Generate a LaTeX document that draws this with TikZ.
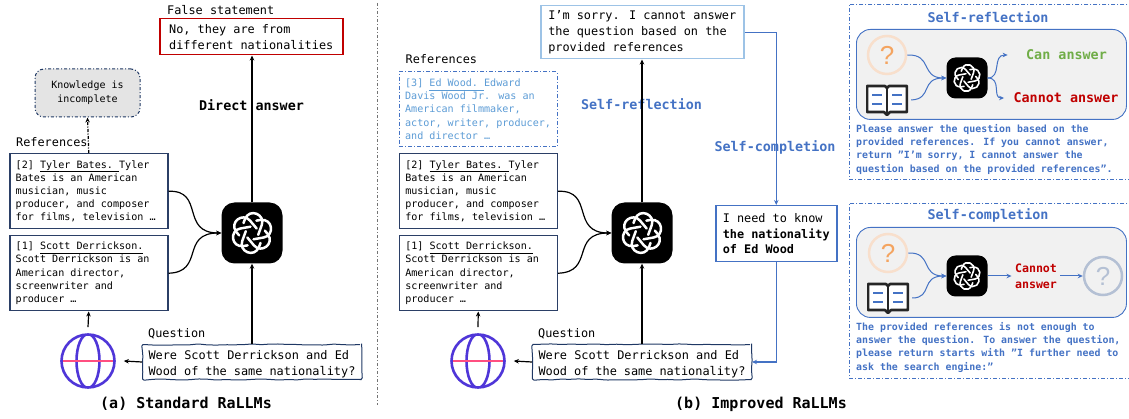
\documentclass[tikz,border=0pt]{standalone}
\usepackage{fontspec}
\setmainfont{DejaVu Sans Mono}
\newfontfamily\qmarkfont{Liberation Sans}
\usepackage{xcolor}
\definecolor{boxslate}{HTML}{2B3F66}
\definecolor{wavenavy}{HTML}{1F3864}
\definecolor{selfblue}{HTML}{4472C4}
\definecolor{refblue}{HTML}{5B9BD5}
\definecolor{skyline}{HTML}{9DC3E6}
\definecolor{falsered}{HTML}{C00000}
\definecolor{cangreen}{HTML}{70AD47}
\definecolor{panelgray}{HTML}{F1F1F1}
\definecolor{cloudgray}{HTML}{E4E4E4}
\definecolor{globepurple}{HTML}{4F36D8}
\definecolor{globepink}{HTML}{FF4F81}
\definecolor{peach}{HTML}{F8DFCC}
\definecolor{qorange}{HTML}{F4A460}
\definecolor{fadeblue}{HTML}{B4C0D4}
\usetikzlibrary{arrows.meta, positioning, decorations.pathmorphing}

\newcommand{\reffont}{\fontsize{10.1}{13.2}\selectfont}
\newcommand{\ansfont}{\fontsize{11.85}{15.8}\selectfont}
\newcommand{\notefont}{\fontsize{9.9}{13.3}\selectfont}
\newcommand{\headfont}{\fontsize{13.4}{16}\selectfont\bfseries}
\newcommand{\refhead}[1]{\underline{\smash{#1}\vphantom{y}}}
\newcommand{\dq}{\symbol{34}}
\newcommand{\gptknot}[3]{\begin{scope}[shift={(#1.center)}]
    \foreach \ang in {10,70,...,310} {
    \draw[white, line width=#3pt, line cap=round, rotate=\ang, x=#2pt, y=#2pt]
      (0.02,-0.30) -- (0.5,-0.30) .. controls (1.02,-0.30) and (1.08,0.5) .. (0.5,0.53) -- (0.30,0.53);}
    \end{scope}}

\begin{document}
\begin{tikzpicture}[
    x=1pt, y=-1pt,
    refbox/.style={rectangle, draw=boxslate, line width=1.5pt, anchor=north west, minimum width=158pt, minimum height=75pt, text width=146pt, inner xsep=6pt, inner ysep=2pt, align=flush left, font=\reffont},
    quesbox/.style={rectangle, draw=wavenavy, line width=1pt, rounded corners=1.5pt, decorate, decoration={random steps, segment length=9pt, amplitude=0.6pt}, anchor=north west, minimum width=219pt, minimum height=35pt, text width=207pt, inner xsep=6pt, inner ysep=1pt, align=flush left, font=\fontsize{11.9}{15.8}\selectfont},
    ansbox/.style={rectangle, line width=1.5pt, anchor=north west, inner xsep=7pt, inner ysep=2pt, align=left, font=\ansfont},
    gptbig/.style={rectangle, fill=black, rounded corners=13pt, minimum size=61pt, inner sep=0pt},
    gptsmall/.style={rectangle, fill=black, rounded corners=9pt, minimum size=41pt, inner sep=0pt},
    globe/.style={circle, draw=globepurple, line width=2.6pt, minimum size=53pt, inner sep=0pt, path picture={
        \draw[globepurple, line width=2.6pt] (path picture bounding box.center) ellipse [x radius=11.5, y radius=27];
        \draw[globepink, line width=2.8pt] (path picture bounding box.west) -- (path picture bounding box.east);}},
    book/.style={rectangle, minimum width=42pt, minimum height=34pt, inner sep=0pt, path picture={
        \coordinate (bc) at (path picture bounding box.center);
        \draw[black!85, line width=2.6pt, fill=white, line join=round] ([shift={(-20,-14)}]bc) -- ([shift={(-2,-14)}]bc) -- ([shift={(0,-12)}]bc) -- ([shift={(2,-14)}]bc) -- ([shift={(20,-14)}]bc) -- ([shift={(20,12)}]bc) -- ([shift={(3,12)}]bc) -- ([shift={(0,15)}]bc) -- ([shift={(-3,12)}]bc) -- ([shift={(-20,12)}]bc) -- cycle;
        \draw[black!85, line width=2.6pt] ([shift={(0,-12)}]bc) -- ([shift={(0,14)}]bc);
        \draw[selfblue, line width=2.4pt] ([shift={(-15,-5)}]bc) -- ([shift={(-5,-5)}]bc) ([shift={(-15,4)}]bc) -- ([shift={(-5,4)}]bc) ([shift={(5,-5)}]bc) -- ([shift={(15,-5)}]bc) ([shift={(5,4)}]bc) -- ([shift={(15,4)}]bc);}},
    qring/.style={circle, draw=#1, line width=2.5pt, minimum size=38pt, inner sep=0pt, font=\fontsize{26}{26}\selectfont\qmarkfont},
    panel/.style={rectangle, draw=selfblue, line width=0.8pt, dash pattern=on 4pt off 2pt on 1pt off 2pt, anchor=north west, minimum width=284pt, minimum height=175pt},
    graypanel/.style={rectangle, draw=selfblue, line width=0.9pt, fill=panelgray, rounded corners=14pt, anchor=north west, minimum width=270pt, minimum height=90pt},
    prompt/.style={anchor=north west, inner sep=0pt, align=left, text=selfblue, font=\notefont\bfseries},
    arrow/.style={-{Stealth[length=5pt, width=4.5pt]}, line width=1.2pt, draw=black},
    bluearrow/.style={-{Stealth[length=5pt, width=4.5pt]}, line width=1pt, draw=selfblue}
]
\useasboundingbox (0,0) rectangle (1129,419);

% Divider
\coordinate (divtop) at (377,3);
\coordinate (divbot) at (377,405);
\draw[black!55, line width=0.8pt, dash pattern=on 3pt off 2pt on 1pt off 2pt] (divtop) -- (divbot);

% Panel (a): Standard
\node[ansbox, draw=falsered, minimum width=183pt, minimum height=36pt] (falsea) at (159,18) {No, they are from\\different nationalities};
\node[above=0pt of falsea.north west, anchor=south west, xshift=7pt, inner sep=1pt, font=\ansfont, yshift=2pt] (falselabel) {False statement};
\node[rectangle, draw=wavenavy, fill=cloudgray, line width=1pt, dash pattern=on 3pt off 2pt on 1pt off 2pt, rounded corners=9pt, minimum width=105pt, minimum height=48pt, align=center, font=\fontsize{10}{14}\selectfont] (gapa) at (87.5,93) {Knowledge is\\incomplete};
\node[refbox] (reftwoa) at (9,153) {[2] \refhead{Tyler Bates.~}Tyler\\Bates is an American\\musician, music\\producer, and composer\\for films, television …};
\node[refbox] (refonea) at (9,235) {[1] \refhead{Scott Derrickson.}\\Scott Derrickson is an\\American director,\\screenwriter and\\producer …};
\node[above=5pt of reftwoa.north west, anchor=south west, xshift=6pt, inner sep=1pt, font=\ansfont] (refsa) {References};
\node[gptbig] (gpta) at (252,233) {};
\gptknot{gpta}{21.5}{2.5}
\node[globe] (globea) at (88,361) {};
\node[quesbox] (quesa) at (142,344) {\rule{0pt}{14pt}Were Scott Derrickson and Ed\\Wood of the same nationality?};
\node[above=3pt of quesa.north west, anchor=south west, xshift=5pt, inner sep=1pt, font=\ansfont, yshift=1pt] (quesla) {Question};
\node[font=\headfont] (directa) at (251.5,105) {Direct answer};
\node[font=\fontsize{15}{18}\selectfont\bfseries] (capa) at (186,404) {(a) Standard RaLLMs};

% Arrows (a)
\draw[arrow, dash pattern=on 3pt off 1.5pt on 1pt off 1.5pt] (reftwoa.north) -- (gapa.south);
\draw[arrow] (gpta.north) -- (gpta.north |- falsea.south);
\draw[arrow] (quesa.north -| gpta.south) -- (gpta.south);
\draw[arrow] (reftwoa.east) .. controls (205,190) and (180,233) .. (gpta.west);
\draw[arrow] (refonea.east) .. controls (205,272) and (180,233) .. (gpta.west);
\draw[arrow] (quesa.west) -- ([xshift=8pt]globea.east);
\draw[arrow] ([yshift=6pt]globea.north) -- (refonea.south);

% Panel (b): Improved
\node[ansbox, draw=skyline, minimum width=203pt, minimum height=53pt] (answerb) at (540,5) {I’m sorry. I cannot answer\\the question based on the\\provided references};
\node[refbox, draw=selfblue, line width=1.2pt, dash pattern=on 4pt off 2pt on 1pt off 2pt, text=refblue] (refthreeb) at (398.5,71) {[3] \refhead{Ed Wood.~}Edward\\Davis Wood Jr. was an\\American filmmaker,\\actor, writer, producer,\\and director …};
\node[refbox] (reftwob) at (398.5,153) {[2] \refhead{Tyler Bates.~}Tyler\\Bates is an American\\musician, music\\producer, and composer\\for films, television …};
\node[refbox] (refoneb) at (398.5,235) {[1] \refhead{Scott Derrickson.}\\Scott Derrickson is an\\American director,\\screenwriter and\\producer …};
\node[above=6pt of refthreeb.north west, anchor=south west, xshift=6pt, inner sep=1pt, font=\ansfont] (refsb) {References};
\node[gptbig] (gptb) at (642,233) {};
\gptknot{gptb}{21.5}{2.5}
\node[globe] (globeb) at (478,361) {};
\node[quesbox] (quesb) at (532,344) {\rule{0pt}{14pt}Were Scott Derrickson and Ed\\Wood of the same nationality?};
\node[above=3pt of quesb.north west, anchor=south west, xshift=5pt, inner sep=1pt, font=\ansfont, yshift=1pt] (queslb) {Question};
\node[ansbox, draw=selfblue, minimum width=121pt, minimum height=56pt] (needb) at (715,205) {I need to know\\\textbf{the nationality}\\\textbf{of Ed Wood}};
\node[font=\headfont, text=selfblue] (reflectb) at (641.5,104) {Self-reflection};
\node[font=\fontsize{15}{18}\selectfont\bfseries] (capb) at (761,404) {(b) Improved RaLLMs};

% Arrows (b)
\draw[arrow] (gptb.north) -- (gptb.north |- answerb.south);
\draw[arrow] (quesb.north -| gptb.south) -- (gptb.south);
\draw[arrow] (reftwob.east) .. controls (595,190) and (570,233) .. (gptb.west);
\draw[arrow] (refoneb.east) .. controls (595,272) and (570,233) .. (gptb.west);
\draw[arrow] (quesb.west) -- ([xshift=8pt]globeb.east);
\draw[arrow] ([yshift=6pt]globeb.north) -- (refoneb.south);
\draw[bluearrow, line width=1.3pt] (answerb.east) -| (needb.north);
\draw[bluearrow, line width=1.3pt] (needb.south) |- (quesb.east);
\node[font=\headfont, text=selfblue] (completeb) at (775,147) {Self-completion};

% Self-reflection panel
\node[panel] (reflectpanel) at (849,4) {};
\node[font=\headfont, text=selfblue] (reflecttitle) at (988,17) {Self-reflection};
\node[graypanel] (reflectgray) at (856,29) {};
\node[qring=peach, text=qorange] (qreflect) at (887,55) {?};
\node[book] (bookreflect) at (887,100) {};
\node[gptsmall] (gptreflect) at (967,78) {};
\gptknot{gptreflect}{14.5}{1.6}
\node[font=\headfont, text=cangreen] (cananswer) at (1066.5,55) {Can answer};
\node[font=\headfont, text=falsered] (cannotanswer) at (1066,98) {Cannot answer};
\draw[bluearrow] (qreflect.east) .. controls (933,54) and (920,78) .. (gptreflect.west);
\draw[bluearrow] ([xshift=3pt]bookreflect.east) .. controls (933,99) and (920,78) .. (gptreflect.west);
\draw[bluearrow] (gptreflect.east) .. controls (1002,78) and (992,55) .. ([xshift=-15pt]cananswer.west);
\draw[bluearrow] (gptreflect.east) .. controls (1002,78) and (992,98) .. ([xshift=-6pt]cannotanswer.west);
\node[prompt] (reflectprompt) at (856,124) {Please answer the question based on the\\provided references. If you cannot answer,\\return \dq I\symbol{39}m sorry, I cannot answer the\\question based on the provided references\dq.};

% Self-completion panel
\node[panel] (completepanel) at (849,203) {};
\node[font=\headfont, text=selfblue] (completetitle) at (988,215) {Self-completion};
\node[graypanel] (completegray) at (856,227) {};
\node[qring=peach, text=qorange] (qcomplete) at (888,253) {?};
\node[book] (bookcomplete) at (888,298) {};
\node[gptsmall] (gptcomplete) at (967,276) {};
\gptknot{gptcomplete}{14.5}{1.6}
\node[align=center, text=falsered, font=\fontsize{11.6}{16}\selectfont\bfseries] (cannotbox) at (1036,276) {Cannot\\answer};
\node[qring=fadeblue, text=fadeblue] (qfaded) at (1103,276) {?};
\draw[bluearrow] (qcomplete.east) .. controls (933,252) and (920,276) .. (gptcomplete.west);
\draw[bluearrow] ([xshift=3pt]bookcomplete.east) .. controls (933,298) and (920,276) .. (gptcomplete.west);
\draw[bluearrow] (gptcomplete.east) -- (cannotbox.west);
\draw[bluearrow] (cannotbox.east) -- (qfaded.west);
\node[prompt] (completeprompt) at (856,322) {The provided references is not enough to\\answer the question. To answer the question,\\please return starts with \dq I further need to\\ask the search engine:\dq};

\end{tikzpicture}
\end{document}
